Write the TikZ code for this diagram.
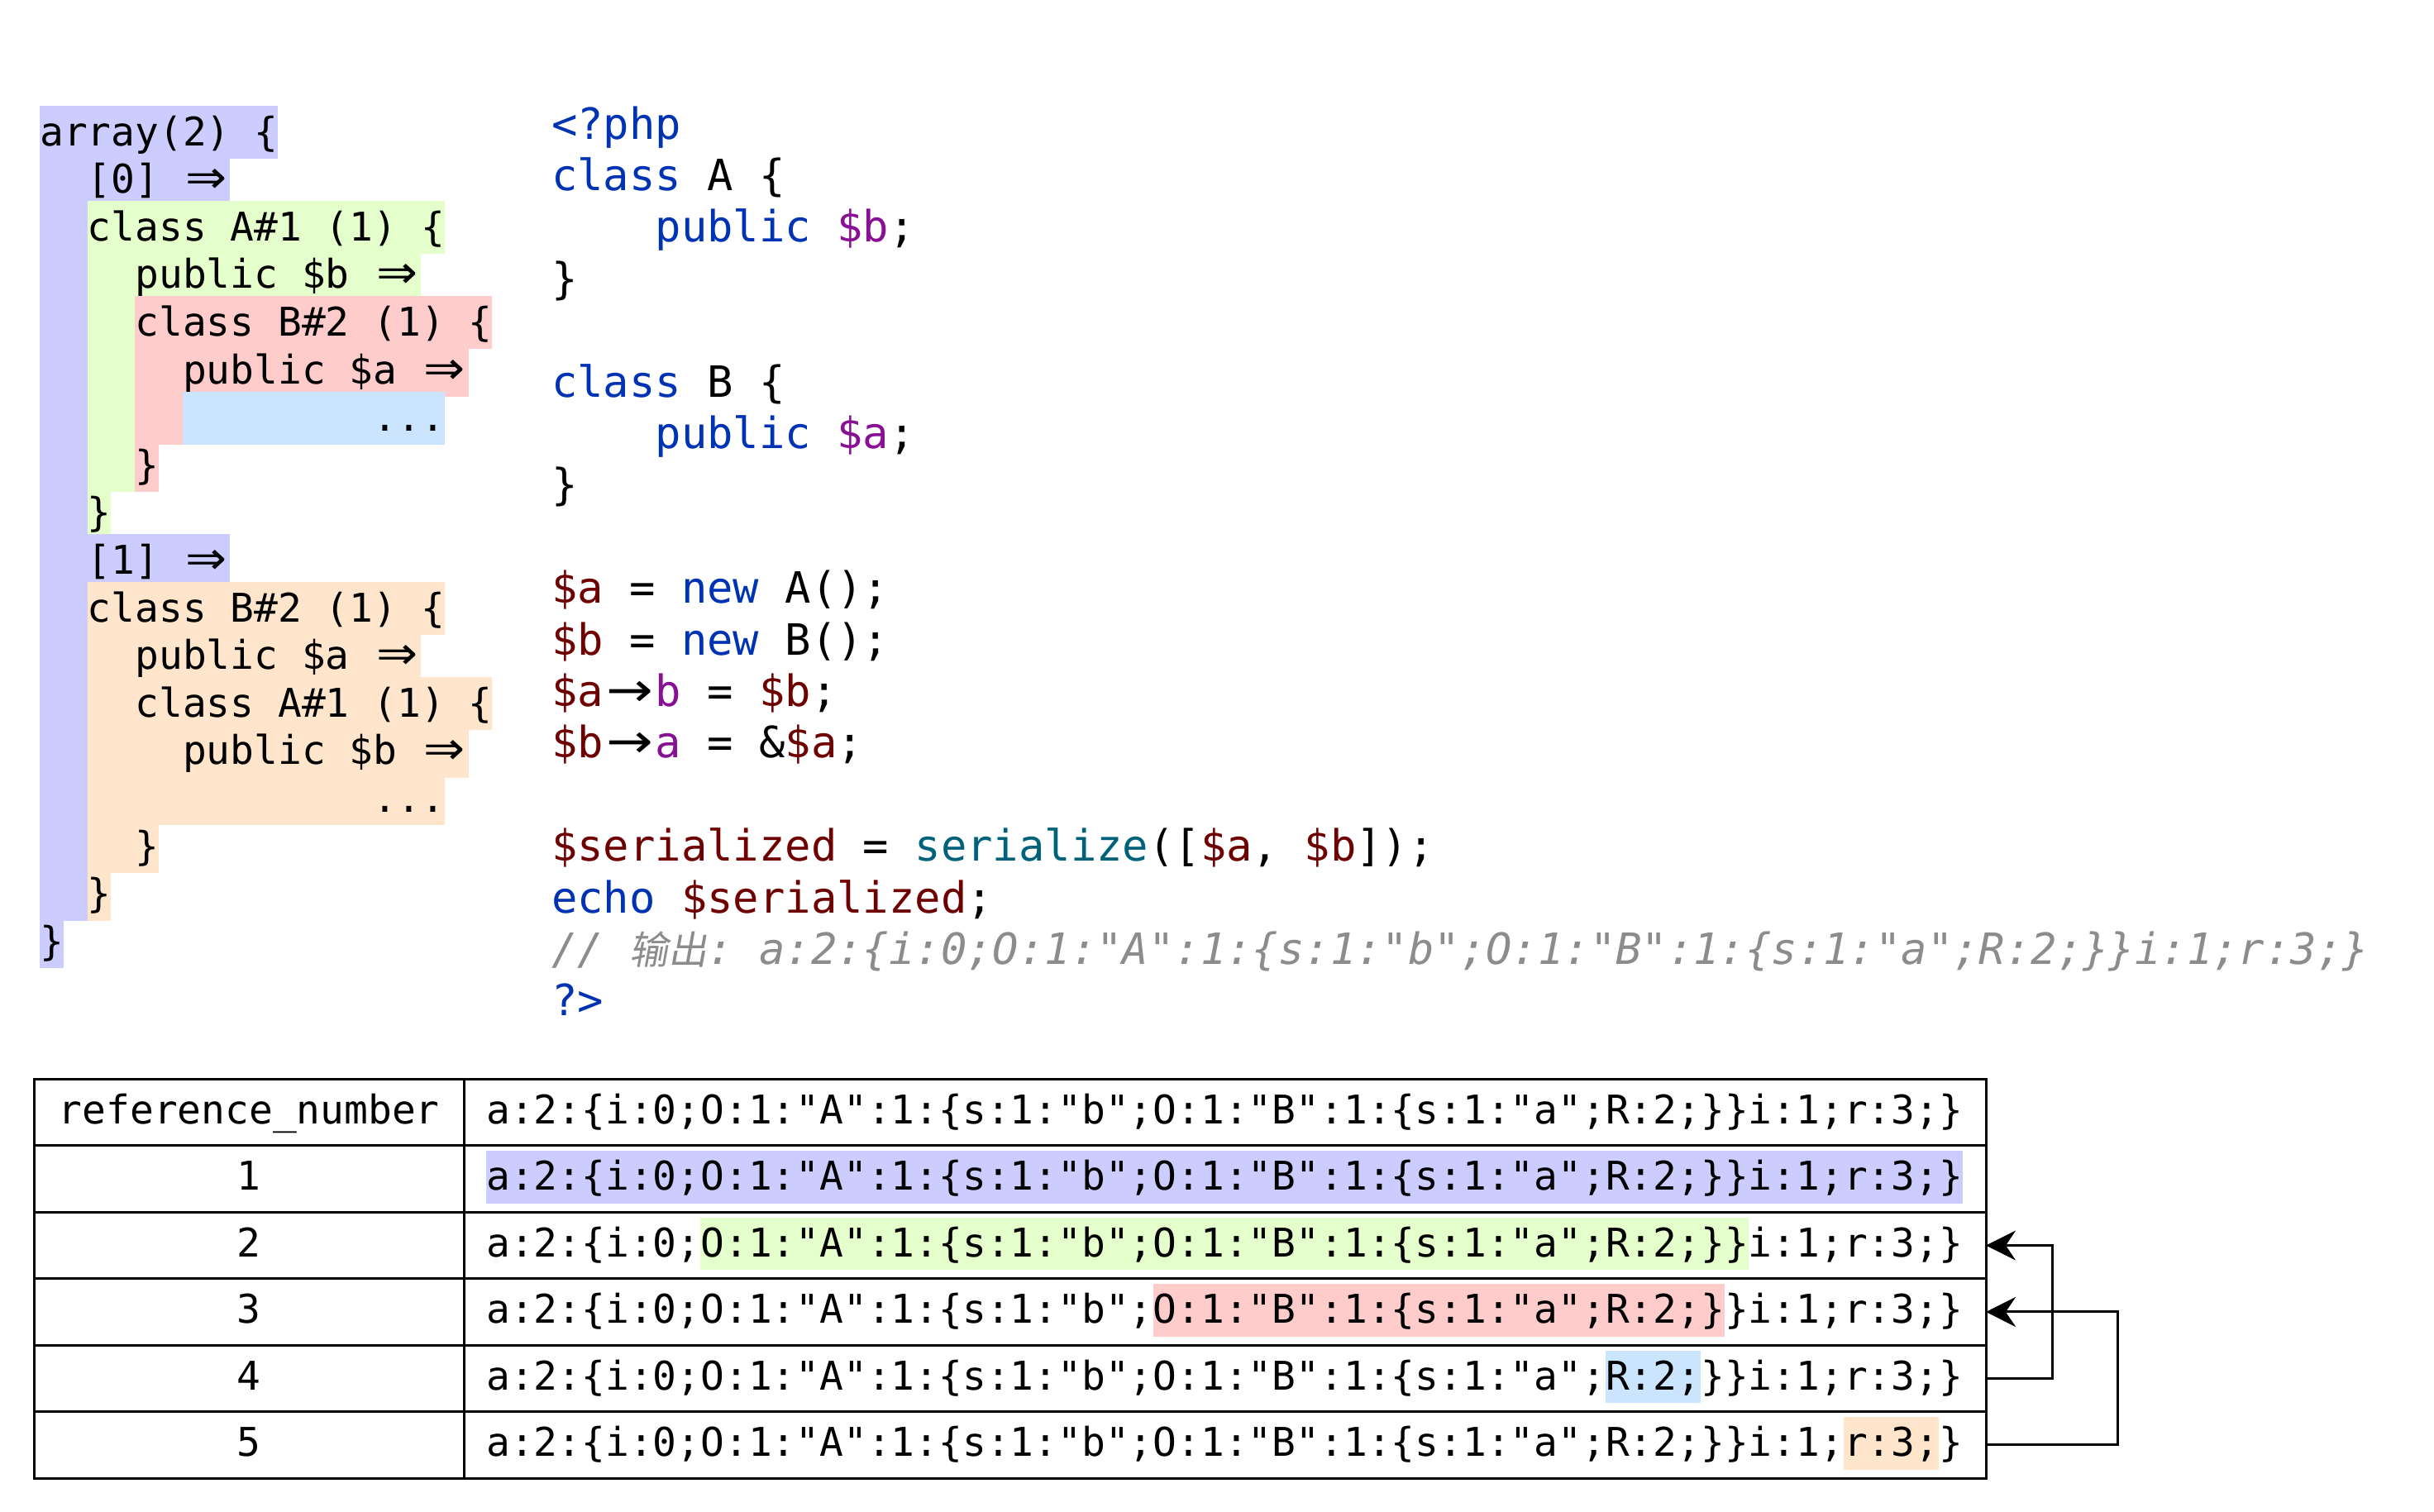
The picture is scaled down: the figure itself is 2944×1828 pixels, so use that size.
\documentclass[tikz,border=0pt]{standalone}
\usepackage{fontspec}
\usepackage{graphicx}
\setmonofont{DejaVu Sans Mono}
\newfontfamily\cjkfont{Noto Sans CJK SC}[FakeSlant=0.18]
\newfontfamily\arrfont{DejaVu Sans}
\usetikzlibrary{arrows.meta}
\definecolor{hlA}{HTML}{CCCCFF}
\definecolor{hlG}{HTML}{E5FFCC}
\definecolor{hlP}{HTML}{FFCCCC}
\definecolor{hlL}{HTML}{CCE5FF}
\definecolor{hlO}{HTML}{FFE5CC}
\definecolor{kwblue}{HTML}{0033B3}
\definecolor{fieldpurple}{HTML}{871094}
\definecolor{varred}{HTML}{6E0000}
\definecolor{functeal}{HTML}{00627A}
\definecolor{cmt}{HTML}{8C8C8C}
\def\cw{28.81}
\def\ccw{31.40}
\newlength\lcwl \setlength\lcwl{28.81pt}
\newlength\ccwl \setlength\ccwl{31.40pt}
\newcommand\lpfont{\ttfamily\fontsize{47.85}{57.6}\selectfont}
\newcommand\cpfont{\ttfamily\fontsize{52.15}{62.4}\selectfont}
\newcommand\darr{\makebox[2\lcwl][c]{\scalebox{1.25}[1.15]{\arrfont ⇒}}}
\newcommand\sarr{\makebox[2\ccwl][c]{\scalebox{1.3}[1.1]{\arrfont →}}}
\newcommand\cB[1]{\textcolor{kwblue}{#1}}
\newcommand\cP[1]{\textcolor{fieldpurple}{#1}}
\newcommand\cV[1]{\textcolor{varred}{#1}}
\newcommand\cF[1]{\textcolor{functeal}{#1}}
\newcommand\ser{a:2:\{i:0;O:1:"A":1:\{s:1:"b";O:1:"B":1:\{s:1:"a";R:2;\}\}i:1;r:3;\}}
% left panel helpers
\newcommand\mkseg[4]{\fill[#2] ({48+#3*\cw},{128+57.6*#1}) rectangle ({48+#4*\cw},{192+57.6*#1});}
\newcommand\mkline[4]{\node[lp] (#1) at ({48+#3*\cw},{176+57.6*#2}) {#4};}
% code helpers
\newcommand\mkcode[4]{\node[cp] (#1) at ({667+#3*\ccw},{168+62.4*#2}) {#4};}
% table helpers
\newcommand\mktseg[4]{\fill[#2] ({588+#3*\cw},{1305.5+80.42*#1+6.5}) rectangle ({588+#4*\cw},{1305.5+80.42*#1+70});}
\begin{document}
\begin{tikzpicture}[x=1pt,y=-1pt,
  lp/.style={anchor=base west, inner sep=0pt, font=\lpfont},
  cp/.style={anchor=base west, inner sep=0pt, font=\cpfont},
  tp/.style={inner sep=0pt, font=\lpfont},
  cellA/.style={draw, line width=3pt, anchor=north west, minimum width=519.5pt, minimum height=80.42pt, inner sep=0pt, outer sep=0pt},
  cellB/.style={draw, line width=3pt, anchor=north west, minimum width=1841pt, minimum height=80.42pt, inner sep=0pt, outer sep=0pt},
  conn/.style={line width=3pt, -{Stealth[length=36pt,width=36pt,inset=12pt]}}]
\useasboundingbox (0,0) rectangle (2944,1828);
\fill[white] (0,0) rectangle (2944,1828);

% ---------- left panel backgrounds ----------
\mkseg{0}{hlA}{0}{10}
\mkseg{1}{hlA}{0}{8}
\mkseg{2}{hlA}{0}{2}\mkseg{2}{hlG}{2}{17}
\mkseg{3}{hlA}{0}{2}\mkseg{3}{hlG}{2}{16}
\mkseg{4}{hlA}{0}{2}\mkseg{4}{hlG}{2}{4}\mkseg{4}{hlP}{4}{19}
\mkseg{5}{hlA}{0}{2}\mkseg{5}{hlG}{2}{4}\mkseg{5}{hlP}{4}{18}
\mkseg{6}{hlA}{0}{2}\mkseg{6}{hlG}{2}{4}\mkseg{6}{hlP}{4}{6}\mkseg{6}{hlL}{6}{17}
\mkseg{7}{hlA}{0}{2}\mkseg{7}{hlG}{2}{4}\mkseg{7}{hlP}{4}{5}
\mkseg{8}{hlA}{0}{2}\mkseg{8}{hlG}{2}{3}
\mkseg{9}{hlA}{0}{8}
\mkseg{10}{hlA}{0}{2}\mkseg{10}{hlO}{2}{17}
\mkseg{11}{hlA}{0}{2}\mkseg{11}{hlO}{2}{16}
\mkseg{12}{hlA}{0}{2}\mkseg{12}{hlO}{2}{19}
\mkseg{13}{hlA}{0}{2}\mkseg{13}{hlO}{2}{18}
\mkseg{14}{hlA}{0}{2}\mkseg{14}{hlO}{2}{17}
\mkseg{15}{hlA}{0}{2}\mkseg{15}{hlO}{2}{5}
\mkseg{16}{hlA}{0}{2}\mkseg{16}{hlO}{2}{3}
\mkseg{17}{hlA}{0}{1}

% ---------- left panel text ----------
\mkline{l0}{0}{0}{array(2) \{}
\mkline{l1}{1}{2}{[0] \darr}
\mkline{l2}{2}{2}{class A\#1 (1) \{}
\mkline{l3}{3}{4}{public \$b \darr}
\mkline{l4}{4}{4}{class B\#2 (1) \{}
\mkline{l5}{5}{6}{public \$a \darr}
\mkline{l6}{6}{14}{...}
\mkline{l7}{7}{4}{\}}
\mkline{l8}{8}{2}{\}}
\mkline{l9}{9}{2}{[1] \darr}
\mkline{l10}{10}{2}{class B\#2 (1) \{}
\mkline{l11}{11}{4}{public \$a \darr}
\mkline{l12}{12}{4}{class A\#1 (1) \{}
\mkline{l13}{13}{6}{public \$b \darr}
\mkline{l14}{14}{14}{...}
\mkline{l15}{15}{4}{\}}
\mkline{l16}{16}{2}{\}}
\mkline{l17}{17}{0}{\}}

% ---------- code panel ----------
\mkcode{c0}{0}{0}{\cB{<?php}}
\mkcode{c1}{1}{0}{\cB{class} A \{}
\mkcode{c2}{2}{4}{\cB{public} \cP{\$b};}
\mkcode{c3}{3}{0}{\}}
\mkcode{c5}{5}{0}{\cB{class} B \{}
\mkcode{c6}{6}{4}{\cB{public} \cP{\$a};}
\mkcode{c7}{7}{0}{\}}
\mkcode{c9}{9}{0}{\cV{\$a} = \cB{new} A();}
\mkcode{c10}{10}{0}{\cV{\$b} = \cB{new} B();}
\mkcode{c11}{11}{0}{\cV{\$a}\sarr\cP{b} = \cV{\$b};}
\mkcode{c12}{12}{0}{\cV{\$b}\sarr\cP{a} = \&\cV{\$a};}
\mkcode{c14}{14}{0}{\cV{\$serialized} = \cF{serialize}([\cV{\$a}, \cV{\$b}]);}
\mkcode{c15}{15}{0}{\cB{echo} \cV{\$serialized};}
\mkcode{c16}{16}{0}{\color{cmt}\itshape //\ \makebox[3\ccwl][c]{\cjkfont\fontsize{47}{50}\selectfont 输出}: \ser}
\mkcode{c17}{17}{0}{\cB{?>}}

% ---------- table highlights ----------
\mktseg{1}{hlA}{0}{62}
\mktseg{2}{hlG}{9}{53}
\mktseg{3}{hlP}{28}{52}
\mktseg{4}{hlL}{47}{51}
\mktseg{5}{hlO}{57}{61}

% ---------- table cells ----------
\foreach \i in {0,...,5}{
  \node[cellA] (a\i) at (41.5,{1305.5+80.42*\i}) {};
  \node[cellB] (b\i) at (561,{1305.5+80.42*\i}) {};
}
% ---------- table text ----------
\node[tp, anchor=base] (h0) at (301.25,1359.5) {reference\_number};
\node[tp, anchor=base west] (s0) at (588,1359.5) {\ser};
\foreach \i in {1,...,5}{
  \node[tp, anchor=base] (n\i) at (301.25,{1359.5+80.42*\i}) {\i};
  \node[tp, anchor=base west] (s\i) at (588,{1359.5+80.42*\i}) {\ser};
}

% ---------- reference arrows ----------
\draw[conn] (b4.east) -- ++(80,0) |- (b2.east);
\draw[conn] (b5.east) -- ++(159,0) |- (b3.east);
\end{tikzpicture}
\end{document}
